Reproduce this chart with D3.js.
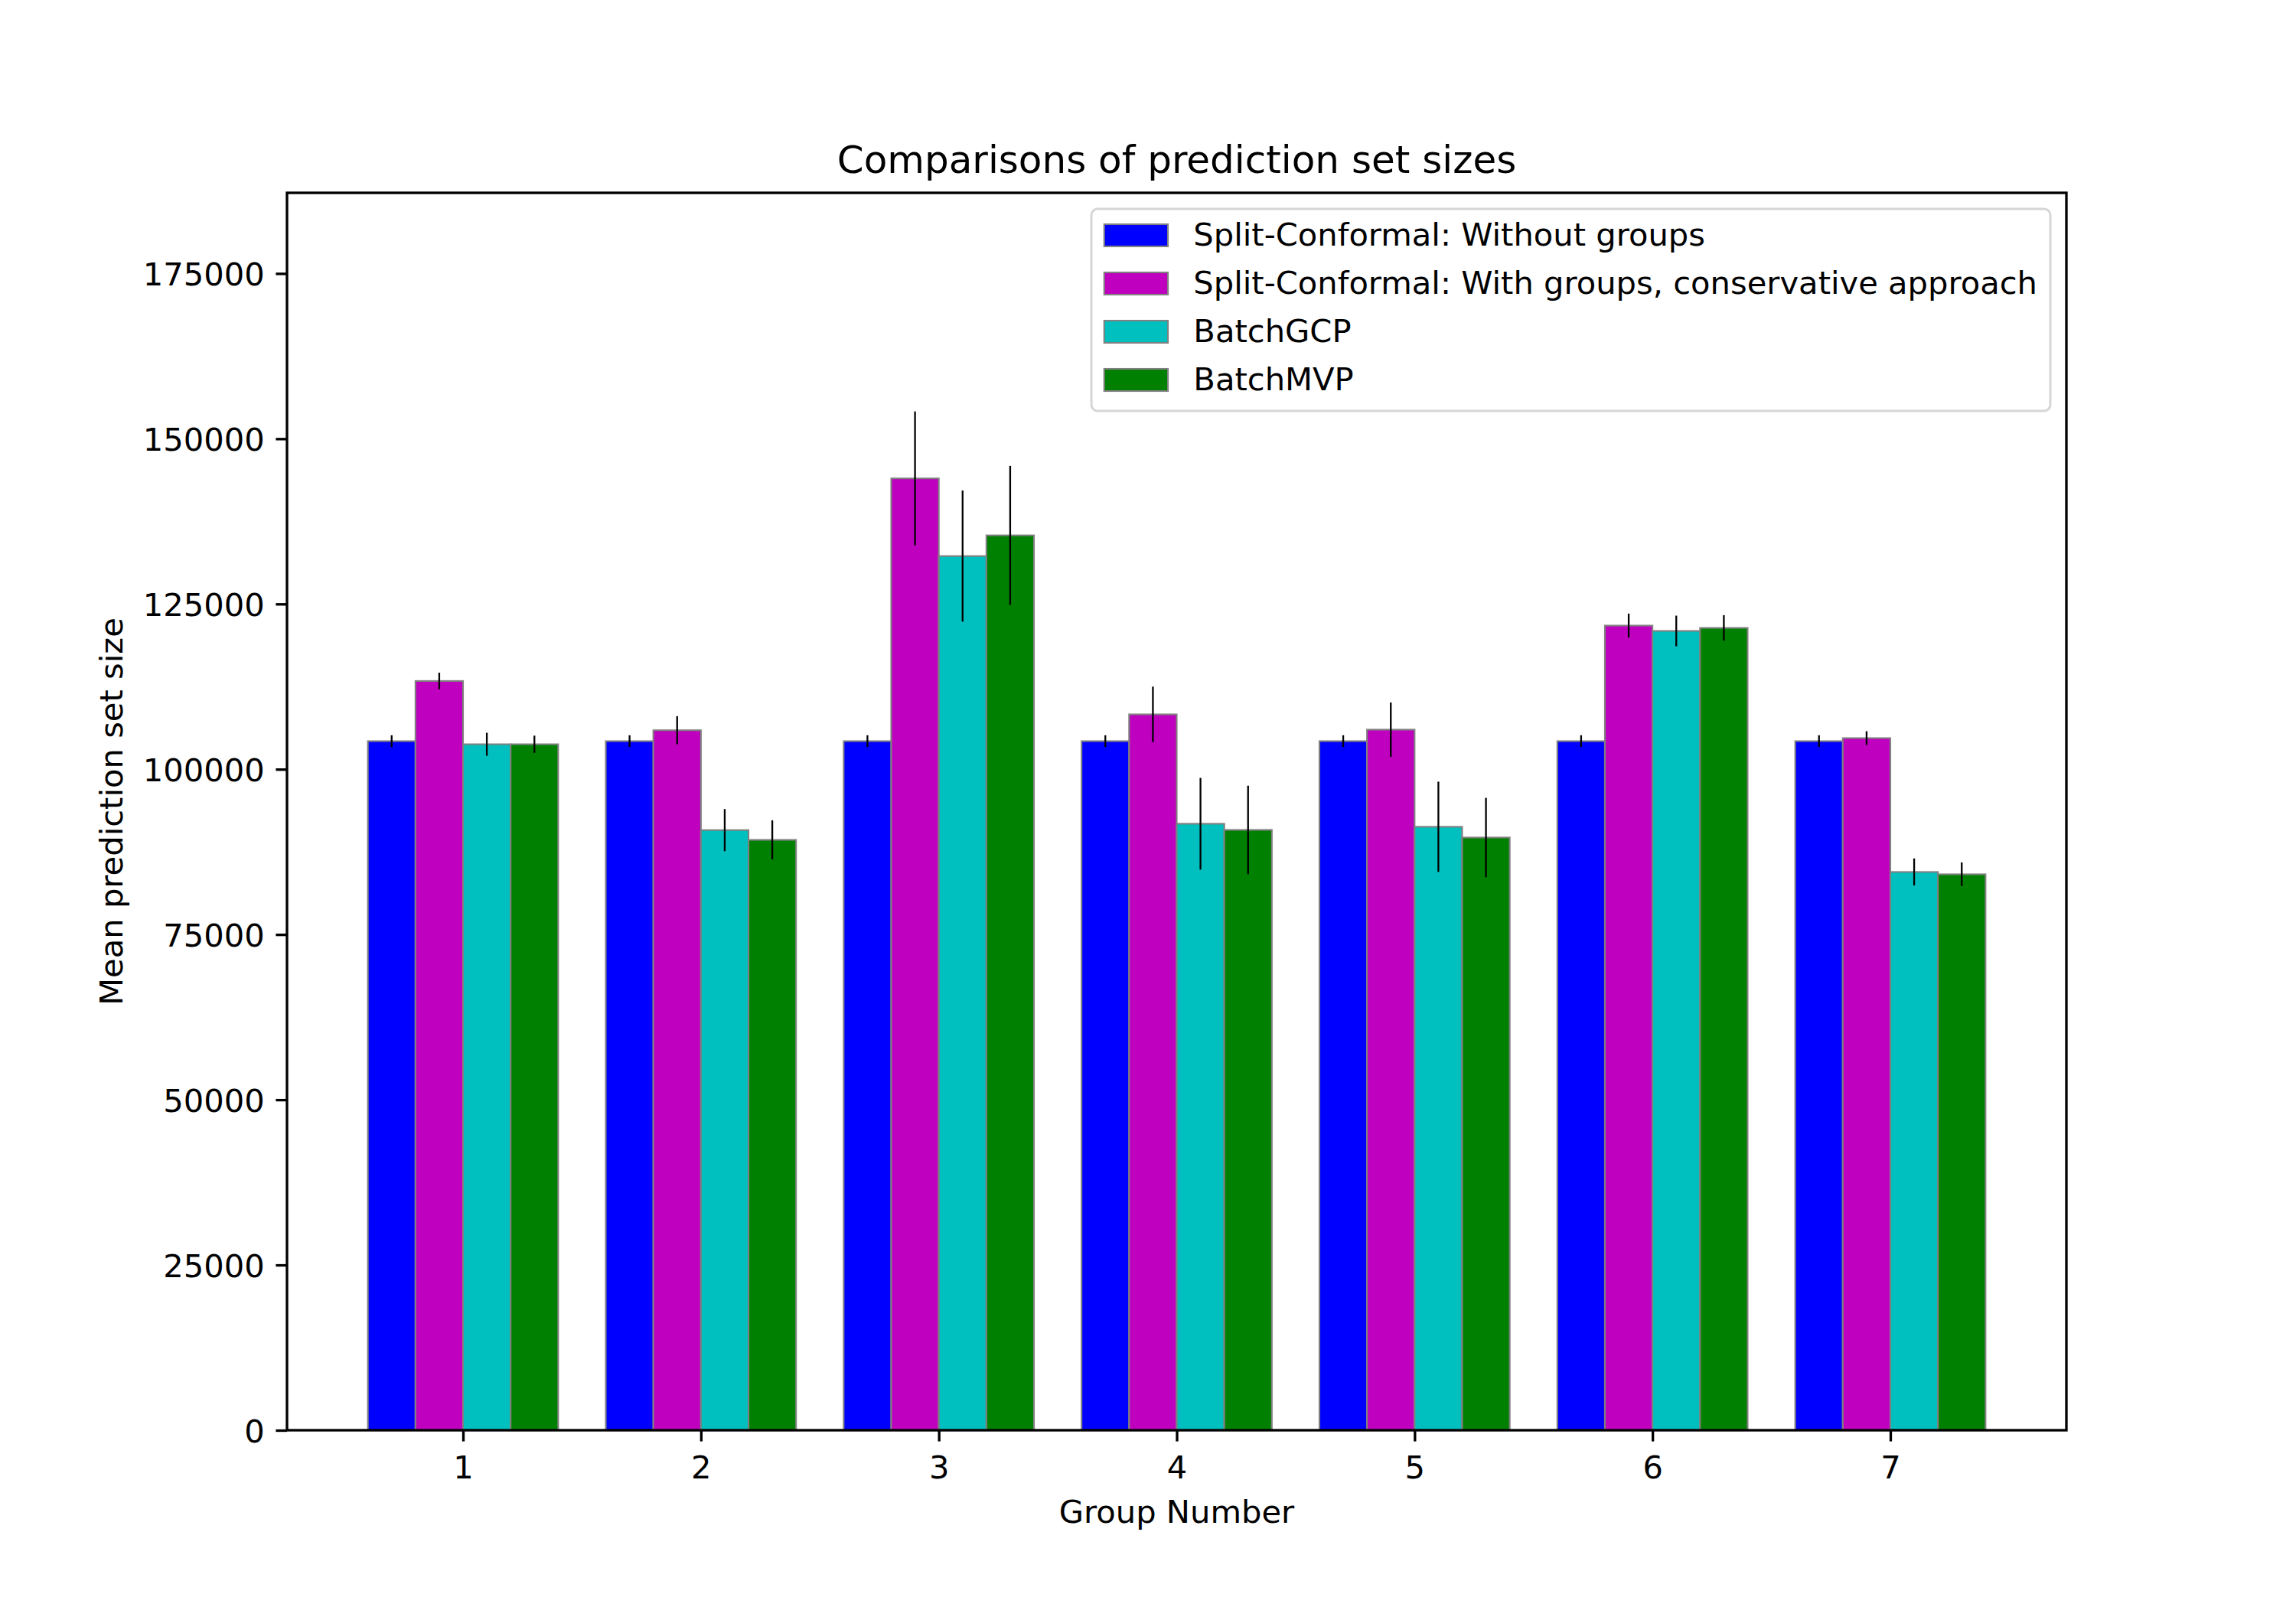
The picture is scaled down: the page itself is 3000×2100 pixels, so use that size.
<!DOCTYPE html>
<html>
<head>
<meta charset="utf-8">
<script src="https://cdn.jsdelivr.net/npm/d3@7/dist/d3.min.js"></script>
<style>
  html, body { margin: 0; padding: 0; background: #ffffff; }
  svg { display: block; }
  text { font-family: "DejaVu Sans", sans-serif; fill: #000; }
</style>
</head>
<body>
<svg id="chart" width="3000" height="2100"></svg>
<script>
// ---------------- data ----------------
const groups = [1, 2, 3, 4, 5, 6, 7];
const seriesNames = [
  "Split-Conformal: Without groups",
  "Split-Conformal: With groups, conservative approach",
  "BatchGCP",
  "BatchMVP"
];
const seriesColors = ["#0000ff", "#bf00bf", "#00bfbf", "#008000"];

const withoutGroups     = [104250, 104250, 104250, 104250, 104250, 104250, 104250];
const withoutGroupsErr  = [890, 890, 890, 890, 890, 890, 890];
const withGroups        = [113350, 105900, 144000, 108300, 105990, 121730, 104710];
const withGroupsErr     = [1250, 2130, 10130, 4200, 4110, 1810, 1040];
const batchGCP          = [103780, 90790, 132250, 91750, 91290, 120920, 84460];
const batchGCPErr       = [1740, 3190, 9920, 6940, 6830, 2315, 2045];
const batchMVP          = [103780, 89310, 135380, 90820, 89670, 121380, 84110];
const batchMVPErr       = [1300, 2950, 10510, 6690, 6000, 1930, 1795];

const yTicks = [0, 25000, 50000, 75000, 100000, 125000, 150000, 175000];

const titleText = "Comparisons of prediction set sizes";
const xLabelText = "Group Number";
const yLabelText = "Mean prediction set size";

const seriesValues = [withoutGroups, withGroups, batchGCP, batchMVP];
const seriesErrors = [withoutGroupsErr, withGroupsErr, batchGCPErr, batchMVPErr];

// ---------------- layout ----------------
const plotLeft = 375, plotRight = 2700, plotTop = 252, plotBottom = 1869;
const barW = 0.2;
const fs = 41.67;

const svg = d3.select("#chart");

const x = d3.scaleLinear().domain([0.26, 7.74]).range([plotLeft, plotRight]);
const y = d3.scaleLinear().domain([0, 187200]).range([plotBottom, plotTop]);

// bars
const plot = svg.append("g");
seriesValues.forEach((vals, k) => {
  const off = (k - 1.5) * barW;
  plot.append("g")
    .selectAll("rect")
    .data(groups.map((g, i) => ({ g, v: vals[i] })))
    .join("rect")
    .attr("x", d => x(d.g + off - barW / 2))
    .attr("y", d => y(d.v))
    .attr("width", d => x(d.g + off + barW / 2) - x(d.g + off - barW / 2))
    .attr("height", d => y(0) - y(d.v))
    .attr("fill", seriesColors[k])
    .attr("stroke", "#808080")
    .attr("stroke-width", 2.1);
});

// error bars
seriesValues.forEach((vals, k) => {
  const off = (k - 1.5) * barW;
  const errs = seriesErrors[k];
  plot.append("g")
    .selectAll("line")
    .data(groups.map((g, i) => ({ g, v: vals[i], e: errs[i] })))
    .join("line")
    .attr("x1", d => x(d.g + off))
    .attr("x2", d => x(d.g + off))
    .attr("y1", d => y(d.v - d.e))
    .attr("y2", d => y(d.v + d.e))
    .attr("stroke", "#000")
    .attr("stroke-width", 2.3);
});

// axes
const xAxis = d3.axisBottom(x).tickValues(groups).tickFormat(d3.format("d"))
  .tickSizeInner(14.6).tickSizeOuter(0).tickPadding(14.6);
const yAxis = d3.axisLeft(y).tickValues(yTicks).tickFormat(d3.format("d"))
  .tickSizeInner(14.6).tickSizeOuter(0).tickPadding(14.6);

const gx = svg.append("g").attr("transform", `translate(0,${plotBottom})`).call(xAxis);
const gy = svg.append("g").attr("transform", `translate(${plotLeft},0)`).call(yAxis);
[gx, gy].forEach(g => {
  g.select(".domain").remove();
  g.selectAll(".tick line").attr("stroke", "#000").attr("stroke-width", 3.33);
  g.selectAll(".tick text").attr("font-size", fs).attr("font-family", "DejaVu Sans").attr("fill", "#000");
});
gx.selectAll(".tick text").attr("dy", null).attr("y", 63);
gy.selectAll(".tick text").attr("dy", "0.36em");

// spines
svg.append("rect")
  .attr("x", plotLeft).attr("y", plotTop)
  .attr("width", plotRight - plotLeft).attr("height", plotBottom - plotTop)
  .attr("fill", "none").attr("stroke", "#000").attr("stroke-width", 3.33);

// title & labels
svg.append("text").attr("x", (plotLeft + plotRight) / 2).attr("y", 226)
  .attr("text-anchor", "middle").attr("font-size", 50).text(titleText);
svg.append("text").attr("x", (plotLeft + plotRight) / 2).attr("y", 1990)
  .attr("text-anchor", "middle").attr("font-size", fs).text(xLabelText);
svg.append("text")
  .attr("transform", `translate(160,${(plotTop + plotBottom) / 2}) rotate(-90)`)
  .attr("text-anchor", "middle").attr("font-size", fs).text(yLabelText);

// legend
const leg = svg.append("g");
const frame = leg.append("rect");
const baselines = [321, 384, 447, 510];
const texts = seriesNames.map((n, k) =>
  leg.append("text").attr("y", baselines[k]).attr("font-size", fs).text(n));
const maxW = d3.max(texts, t => t.node().getComputedTextLength());
const legRight = 2679;
const textStart = legRight - 17 - maxW;
const handleLeft = textStart - 33.3 - 83.3;
const legLeft = handleLeft - 16.7;
texts.forEach(t => t.attr("x", textStart));
seriesNames.forEach((n, k) => {
  leg.append("rect")
    .attr("x", handleLeft).attr("y", baselines[k] - 28)
    .attr("width", 83.3).attr("height", 29)
    .attr("fill", seriesColors[k]).attr("stroke", "#808080").attr("stroke-width", 2.1);
});
frame.attr("x", legLeft).attr("y", 273)
  .attr("width", legRight - legLeft).attr("height", 537 - 273)
  .attr("rx", 8).attr("ry", 8)
  .attr("fill", "#ffffff").attr("fill-opacity", 0.8)
  .attr("stroke", "#d6d6d6").attr("stroke-width", 3);
</script>
</body>
</html>
